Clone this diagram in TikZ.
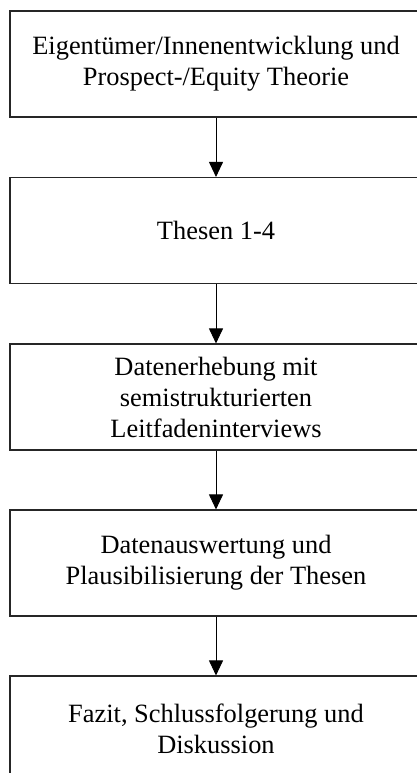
\documentclass[tikz,border=0pt]{standalone}
\usepackage{fontspec}
\setmainfont{Liberation Serif}
\usetikzlibrary{arrows.meta}
\begin{document}
\begin{tikzpicture}[x=1pt,y=-1pt,
  stepbox/.style={draw=black!85,line width=1.1pt,minimum width=412pt,minimum height=106pt,
    align=center,inner sep=0pt,font=\fontsize{26.4}{31}\selectfont},
  conn/.style={line width=0.9pt,-{Triangle[length=15pt,width=14pt]}}]
\useasboundingbox (0,0) rectangle (416,773);
\node[stepbox] (b1) at (216,64) {Eigentümer/Innenentwicklung und\\Prospect-/Equity Theorie};
\node[stepbox] (b2) at (216,230.5) {Thesen 1-4};
\node[stepbox] (b3) at (216,397) {Datenerhebung mit\\semistrukturierten\\Leitfadeninterviews};
\node[stepbox] (b4) at (216,563) {Datenauswertung und\\Plausibilisierung der Thesen};
\node[stepbox] (b5) at (216,729) {Fazit, Schlussfolgerung und\\Diskussion};
\draw[conn] (b1.south) -- (b2.north);
\draw[conn] (b2.south) -- (b3.north);
\draw[conn] (b3.south) -- (b4.north);
\draw[conn] (b4.south) -- (b5.north);
\end{tikzpicture}
\end{document}
